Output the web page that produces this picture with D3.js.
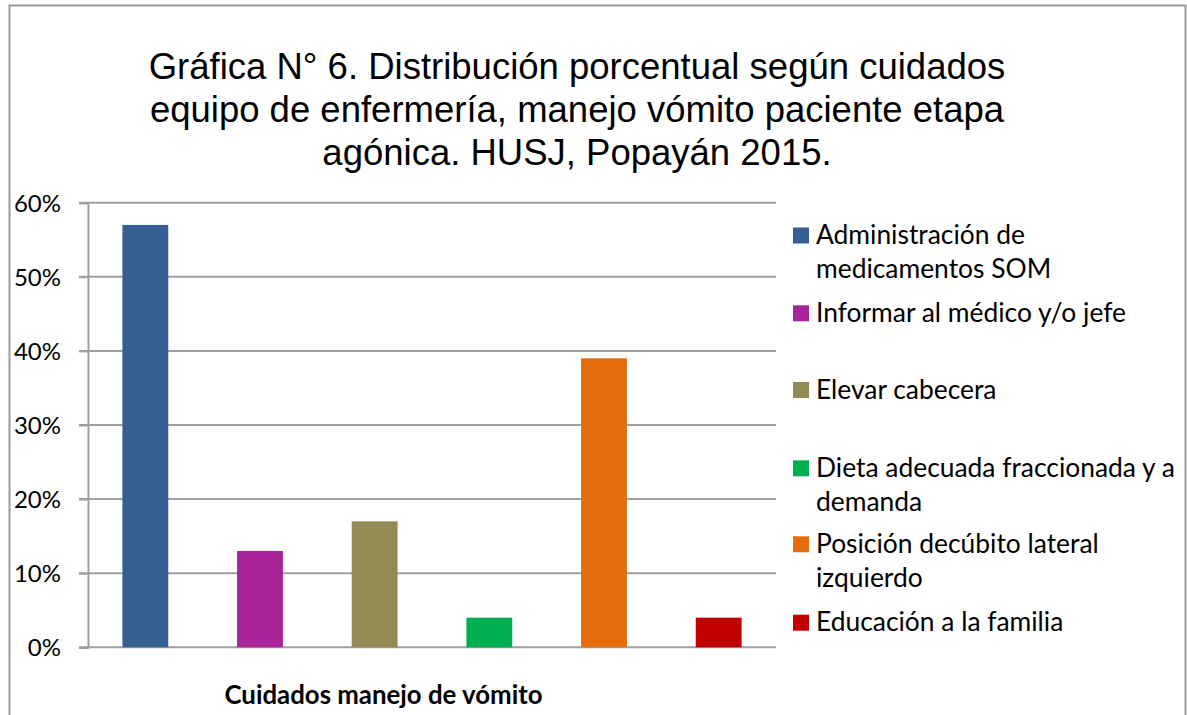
<!DOCTYPE html>
<html>
<head>
<meta charset="utf-8">
<script src="https://cdn.jsdelivr.net/npm/d3@7"></script>
<style>
  body { margin: 0; background: #fff; }
  svg { display: block; }
</style>
</head>
<body>
<div id="chart"></div>
<script>
const width = 1187, height = 715;

// data
const titleLines = [
  "Gráfica N° 6. Distribución porcentual según cuidados",
  "equipo de enfermería, manejo vómito paciente etapa",
  "agónica. HUSJ, Popayán 2015."
];
const categories = [
  "Administración de medicamentos SOM",
  "Informar al médico y/o jefe",
  "Elevar cabecera",
  "Dieta adecuada fraccionada y a demanda",
  "Posición decúbito lateral izquierdo",
  "Educación a la familia"
];
// legend lines as Excel wrapped them
const legendLines = [
  ["Administración de", "medicamentos SOM"],
  ["Informar al médico y/o jefe"],
  ["Elevar cabecera"],
  ["Dieta adecuada fraccionada y a", "demanda"],
  ["Posición decúbito lateral", "izquierdo"],
  ["Educación a la familia"]
];
const values = [57, 13, 17, 4, 39, 4];
const colors = ["#376092", "#A9239B", "#948A54", "#00B050", "#E46C0A", "#C00000"];
const yTicks = [0, 10, 20, 30, 40, 50, 60];
const xTitle = "Cuidados manejo de vómito";

const svg = d3.select("#chart").append("svg")
  .attr("width", width)
  .attr("height", height);

// outer chart border
svg.append("rect")
  .attr("x", 9.5).attr("y", 5.5)
  .attr("width", 1176).attr("height", 720)
  .attr("fill", "#fff")
  .attr("stroke", "#9a9a9a")
  .attr("stroke-width", 2);

// title
svg.append("text")
  .attr("text-anchor", "middle")
  .attr("font-family", "Liberation Sans, Arial, sans-serif")
  .attr("font-size", 36.5)
  .attr("fill", "#000")
  .selectAll("tspan")
  .data(titleLines)
  .join("tspan")
  .attr("x", 577)
  .attr("y", (d, i) => 78.5 + i * 43)
  .text(d => d);

const plot = { left: 88, right: 776, top: 202.7, bottom: 647.3 };

const x = d3.scaleBand()
  .domain(categories)
  .range([plot.left, plot.right])
  .padding(0);

const y = d3.scaleLinear()
  .domain([0, 60])
  .range([plot.bottom, plot.top]);

// gridlines
svg.append("g")
  .selectAll("line")
  .data(yTicks)
  .join("line")
  .attr("x1", plot.left - 9)
  .attr("x2", plot.right)
  .attr("y1", d => y(d))
  .attr("y2", d => y(d))
  .attr("stroke", "#a0a0a0")
  .attr("stroke-width", 2);

// y axis
const yAxis = svg.append("g")
  .attr("transform", `translate(${plot.left},0)`)
  .call(d3.axisLeft(y).tickValues(yTicks).tickSize(9).tickFormat(d => d + "%"));
yAxis.select(".domain").attr("stroke", "#a0a0a0").attr("stroke-width", 2);
yAxis.selectAll(".tick line").attr("stroke", "#a0a0a0").attr("stroke-width", 2);
yAxis.selectAll(".tick text")
  .attr("x", -27)
  .attr("dy", "0.35em")
  .attr("font-family", "Lato, sans-serif")
  .attr("font-size", 24)
  .attr("fill", "#000");

// bars
const barW = x.bandwidth() * 0.4;
svg.append("g")
  .selectAll("rect")
  .data(categories)
  .join("rect")
  .attr("x", d => x(d) + (x.bandwidth() - barW) / 2)
  .attr("y", (d, i) => y(values[i]))
  .attr("width", barW)
  .attr("height", (d, i) => y(0) - y(values[i]))
  .attr("fill", (d, i) => colors[i]);

// x axis title
svg.append("text")
  .attr("x", 383.5)
  .attr("y", 704)
  .attr("text-anchor", "middle")
  .attr("font-family", "Lato, sans-serif")
  .attr("font-weight", "bold")
  .attr("font-size", 25.8)
  .attr("fill", "#000")
  .text(xTitle);

// legend
const legendY = [235.5, 313.3, 390, 468.3, 544.3, 622.7];
const legend = svg.append("g")
  .selectAll("g")
  .data(categories)
  .join("g")
  .attr("transform", (d, i) => `translate(793,${legendY[i]})`);

legend.append("rect")
  .attr("x", 0).attr("y", -8)
  .attr("width", 16).attr("height", 16)
  .attr("fill", (d, i) => colors[i]);

legend.append("text")
  .attr("font-family", "Lato, sans-serif")
  .attr("font-size", 26.4)
  .attr("fill", "#000")
  .selectAll("tspan")
  .data((d, i) => legendLines[i])
  .join("tspan")
  .attr("x", 23)
  .attr("y", (d, j) => 8.5 + j * 34)
  .text(d => d);
</script>
</body>
</html>
